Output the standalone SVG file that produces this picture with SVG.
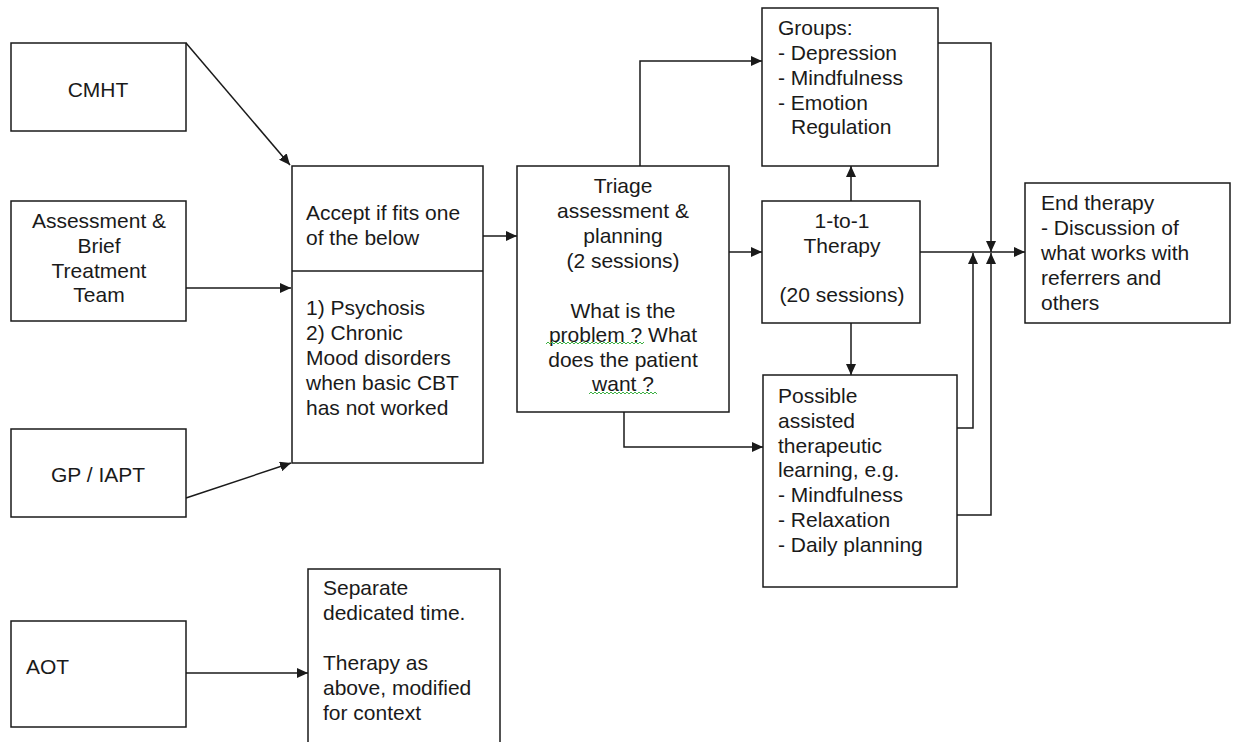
<svg xmlns="http://www.w3.org/2000/svg" width="1233" height="742" viewBox="0 0 1233 742">
  <style>
    .box { fill: #ffffff; stroke: #1a1a1a; stroke-width: 1.5; }
    .lbl { font-family: "Liberation Sans", Arial, sans-serif; font-size: 21px; fill: #1a1a1a; }
    .mid { text-anchor: middle; }
    .wire { fill: none; stroke: #1a1a1a; stroke-width: 1.5; }
    .spell { fill: none; stroke: #3cb043; stroke-width: 1; }
  </style>
  <defs>
    <marker id="arrow" markerUnits="userSpaceOnUse" markerWidth="12" markerHeight="10" refX="11" refY="5" orient="auto">
      <path d="M0,0 L11,5 L0,10 z" fill="#1a1a1a"/>
    </marker>
  </defs>
  <rect width="1233" height="742" fill="#ffffff"/>

  <!-- connectors -->
  <g id="connectors" class="wire">
    <path d="M186,43 L290,165" marker-end="url(#arrow)"/>
    <path d="M186,288 L291,288" marker-end="url(#arrow)"/>
    <path d="M186,498 L291,463" marker-end="url(#arrow)"/>
    <path d="M483,236 L517,236" marker-end="url(#arrow)"/>
    <path d="M640,166 L640,61 L762,61" marker-end="url(#arrow)"/>
    <path d="M729,252 L762,252" marker-end="url(#arrow)"/>
    <path d="M624,412 L624,447 L763,447" marker-end="url(#arrow)"/>
    <path d="M851,201 L851,166" marker-end="url(#arrow)"/>
    <path d="M851,323 L851,375" marker-end="url(#arrow)"/>
    <path d="M920,252 L1025,252" marker-end="url(#arrow)"/>
    <path d="M938,43 L991,43 L991,252" marker-end="url(#arrow)"/>
    <path d="M957,428 L973,428 L973,253" marker-end="url(#arrow)"/>
    <path d="M957,515 L991,515 L991,253" marker-end="url(#arrow)"/>
    <path d="M186,673 L308,673" marker-end="url(#arrow)"/>
  </g>

  <g id="cmht">
    <rect class="box" x="11" y="43" width="175" height="88"/>
    <text class="lbl mid" x="98" y="97">CMHT</text>
  </g>

  <g id="assessment-team">
    <rect class="box" x="11" y="201" width="175" height="120"/>
    <text class="lbl mid" x="99" y="228">Assessment &amp;</text>
    <text class="lbl mid" x="99" y="253">Brief</text>
    <text class="lbl mid" x="99" y="278">Treatment</text>
    <text class="lbl mid" x="99" y="302">Team</text>
  </g>

  <g id="gp-iapt">
    <rect class="box" x="11" y="429" width="175" height="88"/>
    <text class="lbl mid" x="98" y="482">GP / IAPT</text>
  </g>

  <g id="aot">
    <rect class="box" x="11" y="621" width="175" height="106"/>
    <text class="lbl" x="26" y="674">AOT</text>
  </g>

  <g id="accept">
    <rect class="box" x="292" y="166" width="191" height="297"/>
    <line class="wire" x1="292" y1="271" x2="483" y2="271"/>
    <text class="lbl" x="306" y="220">Accept if fits one</text>
    <text class="lbl" x="306" y="245">of the below</text>
    <text class="lbl" x="306" y="315">1) Psychosis</text>
    <text class="lbl" x="306" y="340">2) Chronic</text>
    <text class="lbl" x="306" y="365">Mood disorders</text>
    <text class="lbl" x="306" y="390">when basic CBT</text>
    <text class="lbl" x="306" y="415">has not worked</text>
  </g>

  <g id="triage">
    <rect class="box" x="517" y="166" width="212" height="246"/>
    <text class="lbl mid" x="623" y="193">Triage</text>
    <text class="lbl mid" x="623" y="218">assessment &amp;</text>
    <text class="lbl mid" x="623" y="243">planning</text>
    <text class="lbl mid" x="623" y="268">(2 sessions)</text>
    <text class="lbl mid" x="623" y="318">What is the</text>
    <text class="lbl mid" x="623" y="342">problem ? What</text>
    <text class="lbl mid" x="623" y="367">does the patient</text>
    <text class="lbl mid" x="623" y="391">want ?</text>
    <path class="spell" d="M546,344 l2,-2 l2,2 l2,-2 l2,2 l2,-2 l2,2 l2,-2 l2,2 l2,-2 l2,2 l2,-2 l2,2 l2,-2 l2,2 l2,-2 l2,2 l2,-2 l2,2 l2,-2 l2,2 l2,-2 l2,2 l2,-2 l2,2 l2,-2 l2,2 l2,-2 l2,2 l2,-2 l2,2 l2,-2 l2,2 l2,-2 l2,2 l2,-2 l2,2 l2,-2 l2,2 l2,-2 l2,2 l2,-2 l2,2 l2,-2 l2,2 l2,-2 l2,2 l2,-2 l2,2 l2,-2"/>
    <path class="spell" d="M589,394 l2,-2 l2,2 l2,-2 l2,2 l2,-2 l2,2 l2,-2 l2,2 l2,-2 l2,2 l2,-2 l2,2 l2,-2 l2,2 l2,-2 l2,2 l2,-2 l2,2 l2,-2 l2,2 l2,-2 l2,2 l2,-2 l2,2 l2,-2 l2,2 l2,-2 l2,2 l2,-2 l2,2 l2,-2 l2,2 l2,-2 l2,2"/>
  </g>

  <g id="groups">
    <rect class="box" x="762" y="8" width="176" height="158"/>
    <text class="lbl" x="778" y="35">Groups:</text>
    <text class="lbl" x="778" y="60">- Depression</text>
    <text class="lbl" x="778" y="85">- Mindfulness</text>
    <text class="lbl" x="778" y="110">- Emotion</text>
    <text class="lbl" x="791" y="134">Regulation</text>
  </g>

  <g id="one-to-one">
    <rect class="box" x="762" y="201" width="158" height="122"/>
    <text class="lbl mid" x="842" y="228">1-to-1</text>
    <text class="lbl mid" x="842" y="253">Therapy</text>
    <text class="lbl mid" x="842" y="302">(20 sessions)</text>
  </g>

  <g id="assisted-learning">
    <rect class="box" x="763" y="375" width="194" height="212"/>
    <text class="lbl" x="778" y="403">Possible</text>
    <text class="lbl" x="778" y="428">assisted</text>
    <text class="lbl" x="778" y="453">therapeutic</text>
    <text class="lbl" x="778" y="477">learning, e.g.</text>
    <text class="lbl" x="778" y="502">- Mindfulness</text>
    <text class="lbl" x="778" y="527">- Relaxation</text>
    <text class="lbl" x="778" y="552">- Daily planning</text>
  </g>

  <g id="end-therapy">
    <rect class="box" x="1025" y="183" width="205" height="140"/>
    <text class="lbl" x="1041" y="210">End therapy</text>
    <text class="lbl" x="1041" y="235">- Discussion of</text>
    <text class="lbl" x="1041" y="260">what works with</text>
    <text class="lbl" x="1041" y="285">referrers and</text>
    <text class="lbl" x="1041" y="310">others</text>
  </g>

  <g id="separate-time">
    <rect class="box" x="308" y="569" width="192" height="190"/>
    <text class="lbl" x="323" y="595">Separate</text>
    <text class="lbl" x="323" y="620">dedicated time.</text>
    <text class="lbl" x="323" y="670">Therapy as</text>
    <text class="lbl" x="323" y="695">above, modified</text>
    <text class="lbl" x="323" y="720">for context</text>
  </g>
</svg>
